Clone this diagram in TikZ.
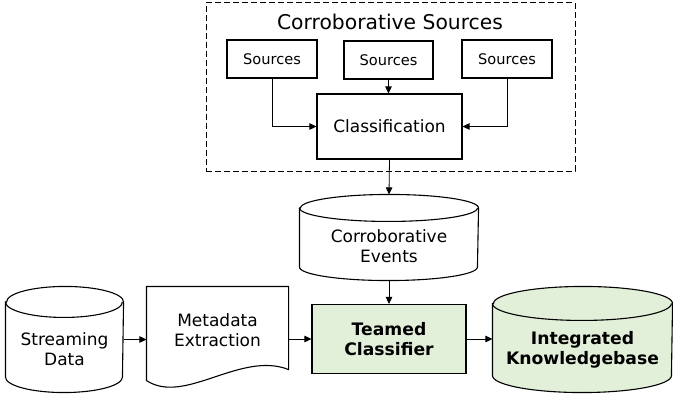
\documentclass[tikz,border=0pt]{standalone}
\usepackage{fontspec}
\setmainfont{DejaVu Sans}
\usetikzlibrary{arrows.meta}
\definecolor{lgreen}{RGB}{226,239,217}
\newcommand\mycyl[4]{%
  \draw[fill=#4] ([yshift=-#3pt]#1.north west) -- ([yshift=#3pt]#1.south west)
    arc[start angle=180,end angle=360,x radius=#2pt,y radius=#3pt]
    -- ([yshift=-#3pt]#1.north east)
    arc[start angle=0,end angle=180,x radius=#2pt,y radius=#3pt] -- cycle;
  \draw ([yshift=-#3pt]#1.north west) arc[start angle=180,end angle=360,x radius=#2pt,y radius=#3pt];
}
\begin{document}
\begin{tikzpicture}[x=1pt,y=-1pt,line width=1.1pt,
  box/.style={draw,rectangle,inner sep=0pt,align=center,font=\fontsize{17}{20}\selectfont},
  srcbox/.style={box,minimum width=90pt,minimum height=38pt,font=\fontsize{14.6}{17}\selectfont},
  area/.style={rectangle,inner sep=0pt},
  lbl/.style={align=center,inner sep=0pt,font=\fontsize{17}{20}\selectfont},
  boldlbl/.style={font=\fontsize{17.2}{20}\selectfont\bfseries},
  arr/.style={-{Triangle[length=7pt,width=6.5pt]},line width=0.8pt}]
\useasboundingbox (0,0) rectangle (673,396);
% corroborative sources group
\node[draw,dash pattern=on 6pt off 3pt,line width=1pt,rectangle,inner sep=0pt,
      minimum width=369pt,minimum height=168pt] (cs) at (390.5,87) {};
\node[lbl,font=\fontsize{20.3}{24}\selectfont] (cst) at (390,22) {Corroborative Sources};
\node[srcbox] (s1) at (272,59) {Sources};
\node[srcbox,minimum width=89pt] (s2) at (388.5,60) {Sources};
\node[srcbox] (s3) at (507,59) {Sources};
\node[box,minimum width=145pt,minimum height=65pt] (cl) at (389.5,126.5) {Classification};
\draw[arr] (s1.south) |- (cl.west);
\draw[arr] (s2.south) -- (s2.south |- cl.north);
\draw[arr] (s3.south) |- (cl.east);
% corroborative events
\node[area,minimum width=178pt,minimum height=85pt] (ce) at (389,237.5) {};
\mycyl{ce}{89}{13.5}{white}
\node[lbl] (cet) at (389,246) {Corroborative\\Events};
\draw[arr] (cl.south) -- (ce.north);
% streaming data
\node[area,minimum width=117pt,minimum height=105pt] (sd) at (64.5,339.5) {};
\mycyl{sd}{58.5}{15.5}{white}
\node[lbl] (sdt) at (64.5,349) {Streaming\\Data};
% metadata extraction
\node[area,minimum width=141pt,minimum height=93pt] (md) at (217.5,333.5) {};
\draw[fill=white] (md.north west) -- (md.north east) -- ([yshift=11pt]md.south east)
  .. controls +(-48,-19) and +(38,25) .. (md.south west) -- cycle;
\node[lbl] (mdt) at (217.5,330) {Metadata\\Extraction};
% teamed classifier
\node[box,fill=lgreen,minimum width=154pt,minimum height=69pt,boldlbl] (tc) at (389,339) {Teamed\\Classifier};
% integrated knowledgebase
\node[area,minimum width=179pt,minimum height=105pt] (ik) at (582.5,339.5) {};
\mycyl{ik}{89.5}{17}{lgreen}
\node[lbl,boldlbl] (ikt) at (582.5,349.5) {Integrated\\Knowledgebase};
% connectors
\draw[arr] (ce.south) -- (tc.north);
\draw[arr] (sd.east) -- (md.west |- sd.east);
\draw[arr] (md.east |- tc.west) -- (tc.west);
\draw[arr] (tc.east) -- (ik.west |- tc.east);
\end{tikzpicture}
\end{document}
